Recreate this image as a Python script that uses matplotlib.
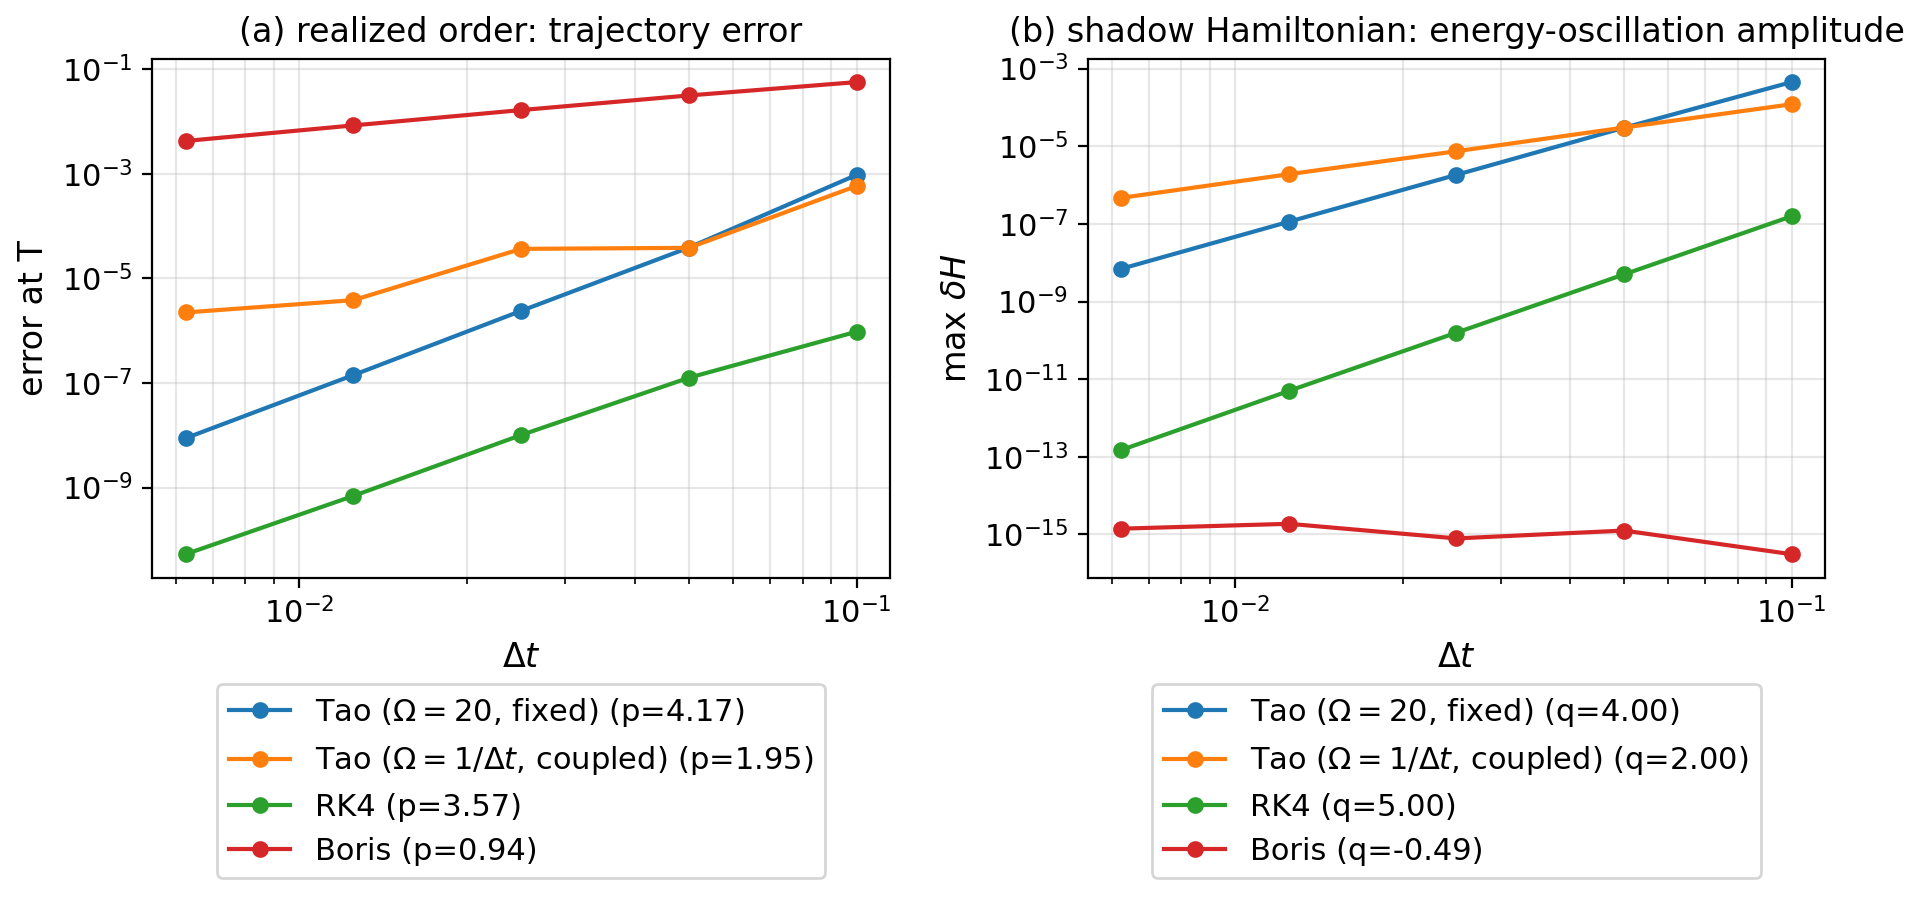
import matplotlib
matplotlib.use("Agg")
import matplotlib.pyplot as plt

dt = [0.1, 0.05, 0.025, 0.0125, 0.00625]

# (a) trajectory error at T
err_tao_fixed = [9.6e-4, 3.9e-5, 2.4e-6, 1.42e-7, 8.8e-9]
err_tao_coupled = [5.9e-4, 3.86e-5, 3.69e-5, 3.85e-6, 2.24e-6]
err_rk4 = [9.6e-7, 1.26e-7, 1.01e-8, 6.9e-10, 5.3e-11]
err_boris = [0.0573, 0.0318, 0.0167, 8.5e-3, 4.28e-3]

# (b) energy-oscillation amplitude
dH_tao_fixed = [4.5e-4, 3.0e-5, 1.84e-6, 1.14e-7, 7.0e-9]
dH_tao_coupled = [1.21e-4, 3.04e-5, 7.46e-6, 1.91e-6, 4.7e-7]
dH_rk4 = [1.57e-7, 5.0e-9, 1.58e-10, 5.0e-12, 1.5e-13]
dH_boris = [3.1e-16, 1.26e-15, 7.9e-16, 1.88e-15, 1.41e-15]

labels_a = [r"Tao ($\Omega=20$, fixed) (p=4.17)",
            r"Tao ($\Omega=1/\Delta t$, coupled) (p=1.95)",
            "RK4 (p=3.57)",
            "Boris (p=0.94)"]
labels_b = [r"Tao ($\Omega=20$, fixed) (q=4.00)",
            r"Tao ($\Omega=1/\Delta t$, coupled) (q=2.00)",
            "RK4 (q=5.00)",
            "Boris (q=-0.49)"]

colors = ["#1f77b4", "#ff7f0e", "#2ca02c", "#d62728"]

fig = plt.figure(figsize=(9.65, 4.5), dpi=200)
ax1 = fig.add_axes([0.0788, 0.358, 0.3824, 0.577])
ax2 = fig.add_axes([0.5637, 0.358, 0.3819, 0.577])

for ax, series, labels, title, ylabel in [
    (ax1, [err_tao_fixed, err_tao_coupled, err_rk4, err_boris], labels_a,
     "(a) realized order: trajectory error", "error at T"),
    (ax2, [dH_tao_fixed, dH_tao_coupled, dH_rk4, dH_boris], labels_b,
     "(b) shadow Hamiltonian: energy-oscillation amplitude", r"max $\delta H$"),
]:
    for ys, lab, c in zip(series, labels, colors):
        ax.loglog(dt, ys, "o-", color=c, label=lab, markersize=5, linewidth=1.5)
    ax.grid(True, which="both", alpha=0.3)
    ax.set_title(title, fontsize=12)
    ax.set_xlabel(r"$\Delta t$", fontsize=12)
    ax.set_ylabel(ylabel, fontsize=12)
    ax.tick_params(labelsize=11)
    ax.legend(loc="upper center", bbox_to_anchor=(0.5, -0.175), fontsize=11)

fig.savefig("out.png", dpi=200)
